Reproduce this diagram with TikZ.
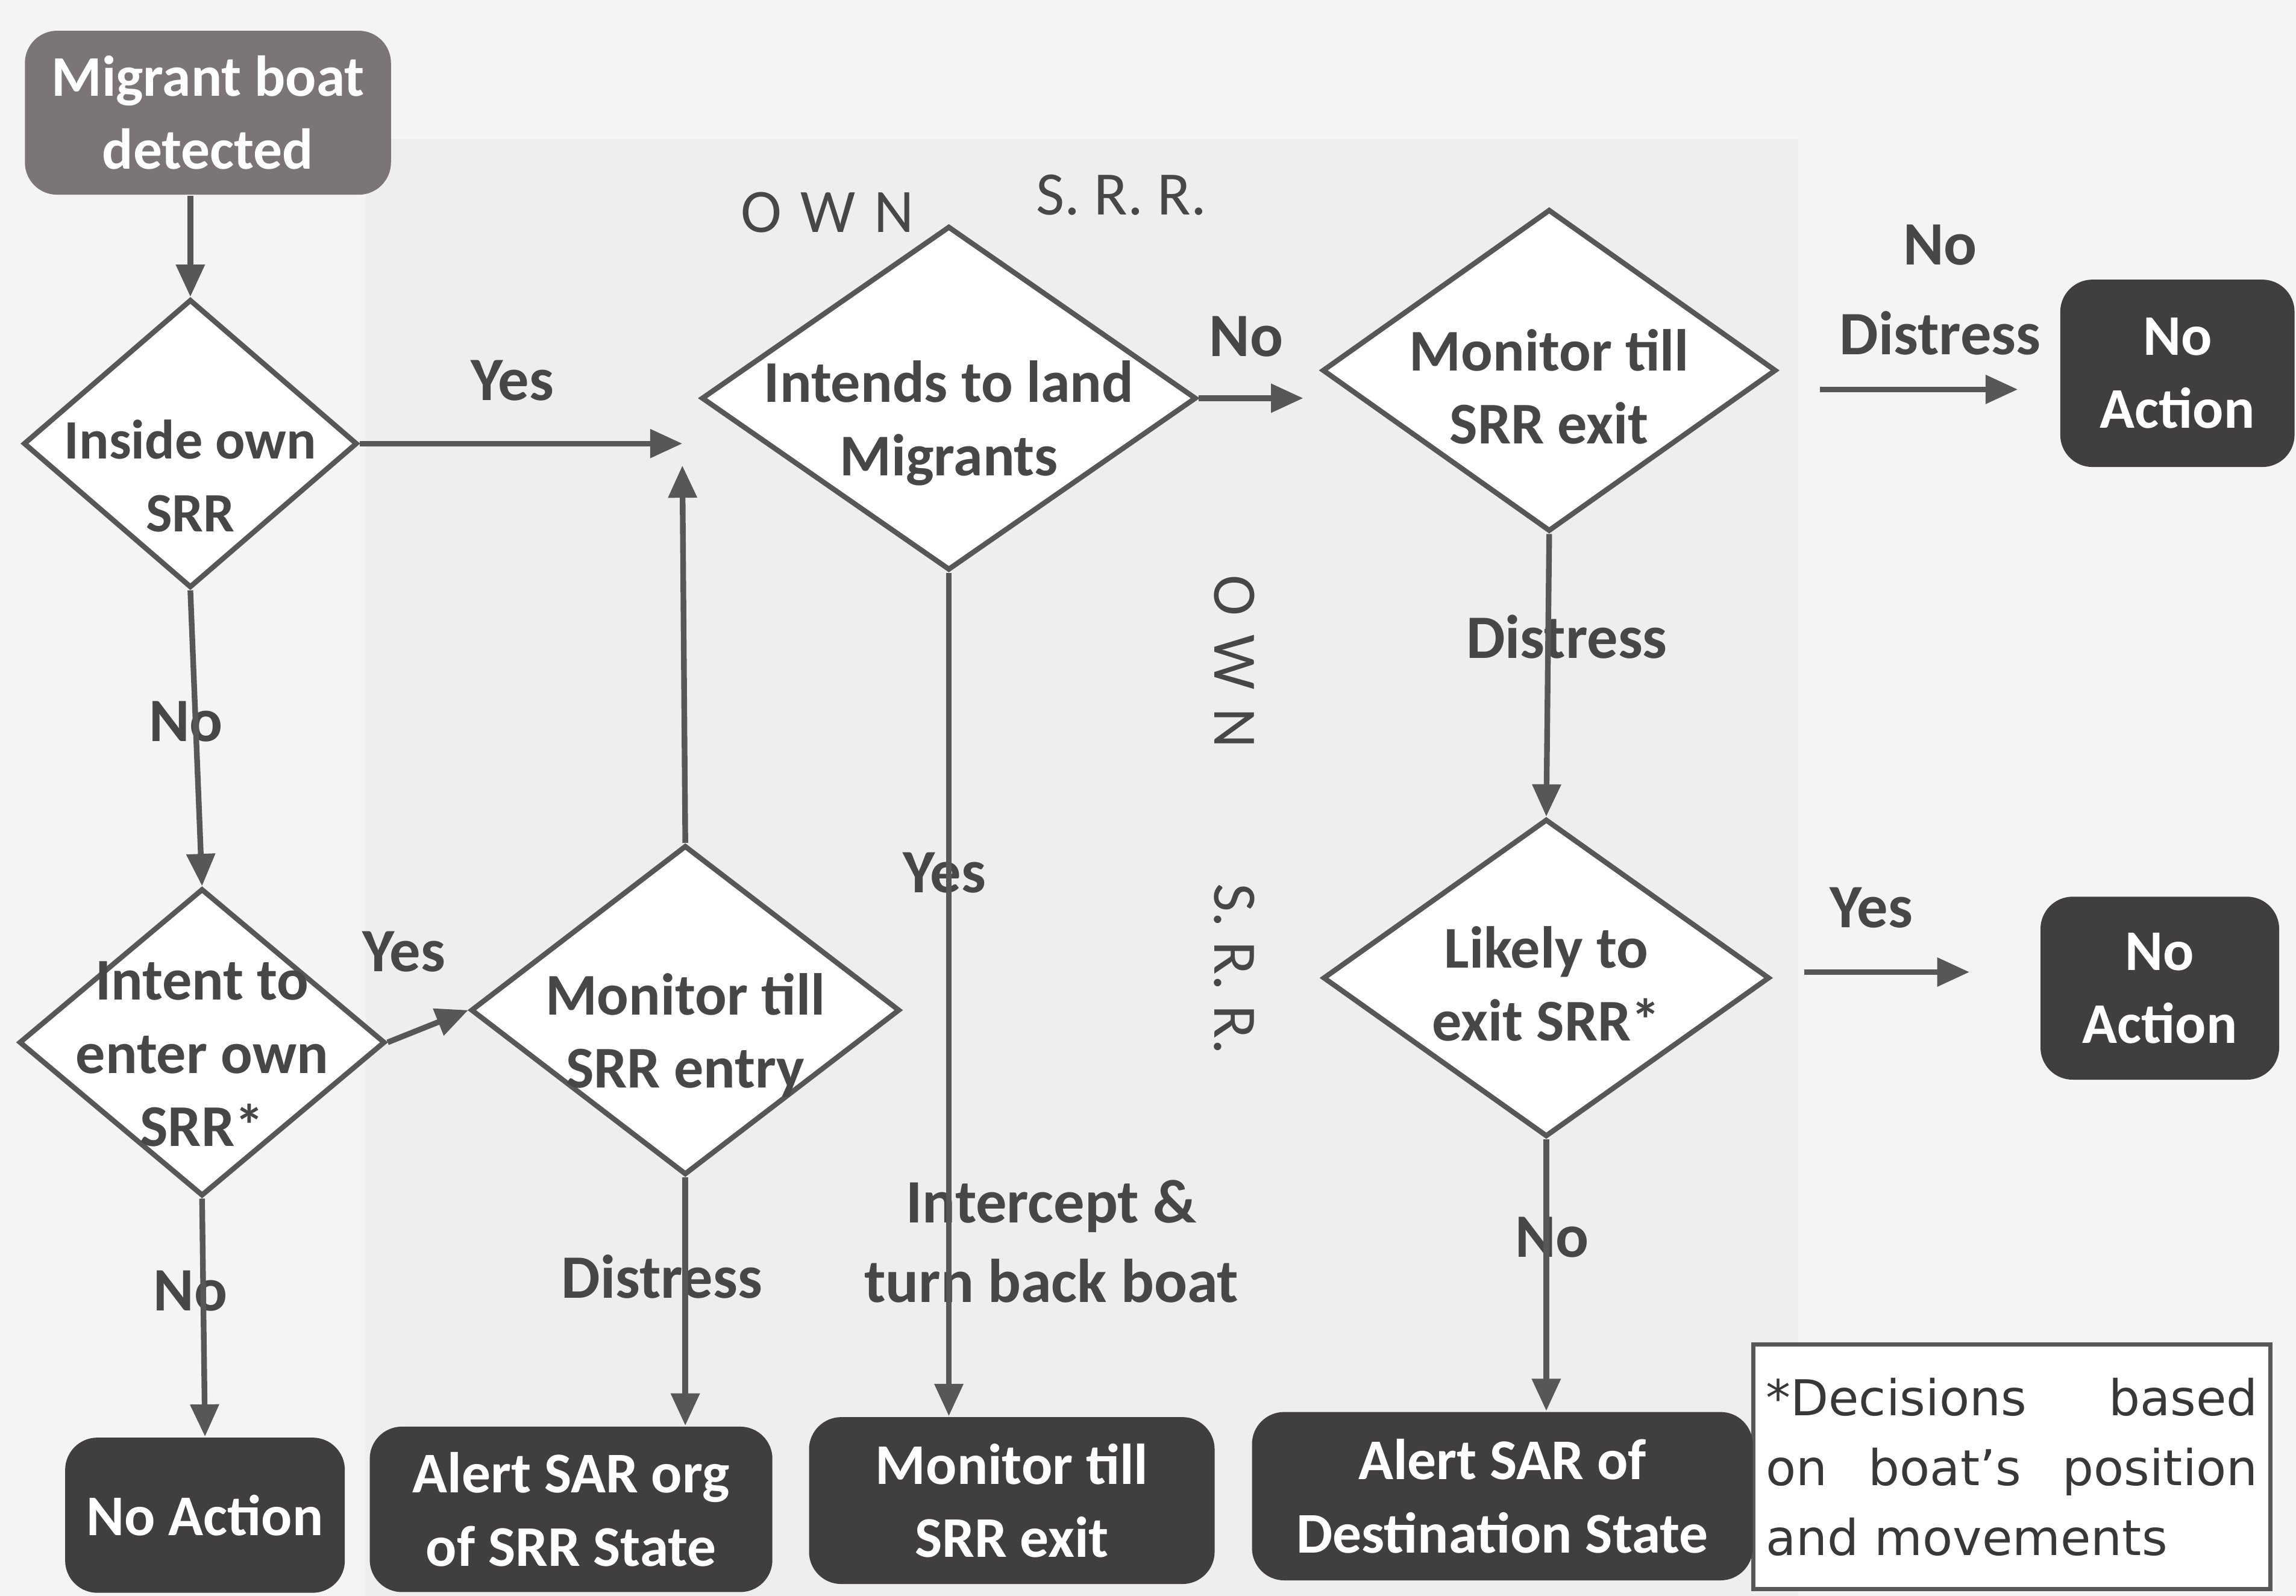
\documentclass[tikz,border=0pt]{standalone}
\usepackage{fontspec}
\setmainfont{Carlito}
\newfontfamily\notefont{DejaVu Sans}
\usetikzlibrary{shapes.geometric,arrows.meta}
\definecolor{linec}{HTML}{575757}
\definecolor{txtc}{HTML}{474747}
\definecolor{boxc}{HTML}{403E3F}
\definecolor{startc}{HTML}{7B7675}
\definecolor{bgc}{HTML}{F4F4F2}
\definecolor{bgc2}{HTML}{EEEEEC}
\begin{document}
\begin{tikzpicture}[x=0.1mm,y=-0.1mm,
  dia/.style={diamond, draw=linec, line width=1pt, fill=white, inner sep=0pt},
  dtxt/.style={align=center, font=\fontsize{11.5}{14.2}\selectfont\bfseries, text=txtc},
  box/.style={rectangle, rounded corners=2.2mm, fill=boxc, text=white, align=center,
    font=\fontsize{11.2}{14.2}\selectfont\bfseries, inner sep=0pt},
  lbl/.style={font=\fontsize{12}{14}\selectfont\bfseries, text=txtc, align=center, inner sep=0pt},
  srr/.style={font=\fontsize{12}{14}\selectfont, text=txtc, inner sep=0pt},
  arr/.style={draw=linec, line width=1.1pt, -{Triangle[length=2.2mm,width=1.9mm]}},
]
\useasboundingbox (0,0) rectangle (1568,1090);
\fill[bgc] (0,0) rectangle (1568,1090);
\fill[bgc2] (250,95) rectangle (1228,1090);

% nodes
\node[box, fill=startc, minimum width=25mm, minimum height=11.2mm] (start) at (142,77) {Migrant boat\\detected};
\node[dia, minimum width=22.8mm, minimum height=19.7mm, label={[dtxt, font=\fontsize{10.8}{14.2}\selectfont\bfseries, yshift=-2.2mm]center:Inside own\\SRR}] (d1) at (130,303) {};
\node[dia, minimum width=33.8mm, minimum height=23.5mm, label={[dtxt, yshift=-1.7mm]center:Intends to land\\Migrants}] (d2) at (648,272) {};
\node[dia, minimum width=31mm, minimum height=22mm, label={[dtxt, yshift=-1.1mm]center:Monitor till\\SRR exit}] (d3) at (1058,253) {};
\node[box, minimum width=16mm, minimum height=12.8mm] (na1) at (1487,255) {No\\Action};
\node[dia, minimum width=30.5mm, minimum height=21.7mm, label={[dtxt, yshift=-0.4mm]center:Likely to\\exit SRR*}] (d5) at (1056,668) {};
\node[box, minimum width=16.3mm, minimum height=12.5mm] (na2) at (1475,675) {No\\Action};
\node[dia, minimum width=25mm, minimum height=21mm, label={[dtxt, yshift=-0.8mm]center:Intent to\\enter own\\SRR*}] (d4) at (138,712) {};
\node[dia, minimum width=29.3mm, minimum height=22.5mm, label={[dtxt, yshift=-1.7mm]center:Monitor till\\SRR entry}] (d6) at (468,690) {};

\node[box, minimum width=19.1mm, minimum height=10.6mm] (na3) at (140,1035) {No Action};
\node[box, minimum width=27.5mm, minimum height=11.3mm] (as1) at (390,1031) {Alert SAR org\\of SRR State};
\node[box, minimum width=27.7mm, minimum height=11.4mm] (ms) at (691,1025) {Monitor till\\SRR exit};
\node[draw=linec, line width=0.8pt, fill=white, minimum width=35.3mm, minimum height=16.7mm,
  text width=33.6mm, inner xsep=0.85mm, inner ysep=0.6mm, align=justify, text=black!78,
  font=\notefont\fontsize{9.6}{13.6}\selectfont] (note) at (1374,1002)
  {*Decisions based\linebreak on boat’s position\linebreak and movements};
\node[box, minimum width=34.2mm, minimum height=11.5mm] (as2) at (1026,1022) {Alert SAR of\\Destination State};

% free ends
\coordinate (j1) at (466,303);
\coordinate (j2) at (466,318);
\coordinate (j3) at (890,272);
\coordinate (nd1) at (1243,266);
\coordinate (nd2) at (1378,266);
\coordinate (ly1) at (1232,664);
\coordinate (ly2) at (1345,664);

% labels
\node[lbl] (lyes1) at (350,260) {Yes};
\node[srr] (own1) at (565,145) {O\hspace{0.3em}W\hspace{0.3em}N};
\node[srr] (srr1) at (766,133) {S. R. R.};
\node[lbl] (lno1) at (851,230) {No};
\node[lbl] (lnd) at (1325,198) {No\\[1.2mm]Distress};
\node[srr, rotate=-90] (own2) at (843,452) {O\hspace{0.3em}W\hspace{0.3em}N};
\node[srr, rotate=-90] (srr2) at (843,662) {S. R. R.};
\node[lbl] (ldis1) at (1070,435) {Distress};
\node[lbl] (lyes2) at (1278,620) {Yes};
\node[lbl] (lno2) at (1060,845) {No};
\node[lbl] (lyes3) at (645,596) {Yes};
\node[lbl] (lint) at (718,848) {Intercept \&\\[0.5mm]turn back boat};
\node[lbl] (lno3) at (127,493) {No};
\node[lbl] (lyes4) at (276,650) {Yes};
\node[lbl] (ldis2) at (452,872) {Distress};
\node[lbl] (lno4) at (130,882) {No};

% connectors
\draw[arr] (start.south -| d1.north) -- (d1.north);
\draw[arr] (d1.east) -- (j1);
\draw[arr] (d6.north) -- (j2);
\draw[arr] (d2.east) -- (j3);
\draw[arr] (nd1) -- (nd2);
\draw[arr] (d3.south) -- (d5.north);
\draw[arr] (ly1) -- (ly2);
\draw[arr] (d5.south) -- (d5.south |- as2.north);
\draw[arr] (d2.south) -- (d2.south |- ms.north);
\draw[arr] (d1.south) -- (d4.north);
\draw[arr] (d4.east) -- (d6.west);
\draw[arr] (d6.south) -- (d6.south |- as1.north);
\draw[arr] (d4.south) -- (na3.north);
\end{tikzpicture}
\end{document}
